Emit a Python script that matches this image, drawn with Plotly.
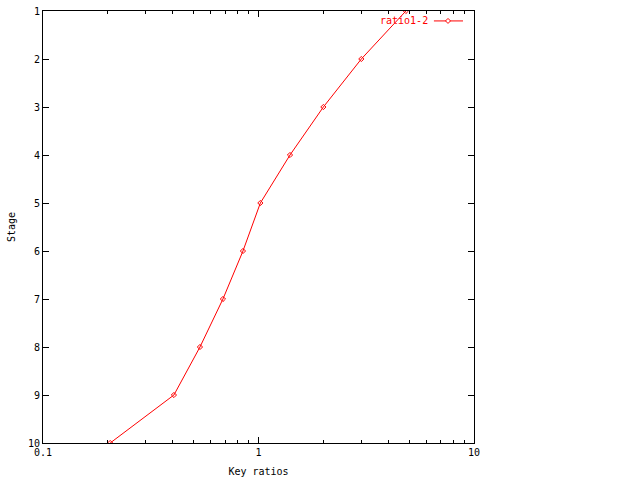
import plotly.graph_objects as go

stages = [1, 2, 3, 4, 5, 6, 7, 8, 9, 10]
key_ratios = [4.83, 3.0, 2.0, 1.40, 1.02, 0.847, 0.684, 0.535, 0.405, 0.205]
series_name = "ratio1-2"

FONT = dict(family="DejaVu Sans Mono", size=10, color="black")

fig = go.Figure()
fig.add_trace(go.Scatter(
    x=key_ratios, y=stages, mode="lines+markers", name=series_name,
    line=dict(color="red", width=1),
    marker=dict(symbol="diamond-open", size=4, color="red", line=dict(width=1)),
    showlegend=False,
))

# key (legend) drawn gnuplot-style: text on the left, sample on the right
KEY_Y = 0.977
fig.add_annotation(text=series_name, xref="paper", yref="paper",
                   x=0.898, y=KEY_Y, xanchor="right", yanchor="middle",
                   showarrow=False, font=dict(family="DejaVu Sans Mono", size=10, color="red"))
fig.add_shape(type="line", xref="paper", yref="paper",
              x0=0.907, x1=0.9745, y0=KEY_Y, y1=KEY_Y,
              line=dict(color="red", width=1))
fig.add_shape(type="path", xref="paper", yref="paper",
              xsizemode="pixel", ysizemode="pixel", xanchor=0.9397, yanchor=KEY_Y,
              path="M0,2.5 L2.5,0 L0,-2.5 L-2.5,0 Z",
              line=dict(color="red", width=1), fillcolor="white")

fig.update_layout(
    width=640, height=480,
    margin=dict(l=43, r=166, t=11, b=37),
    paper_bgcolor="white", plot_bgcolor="white",
    font=FONT,
    showlegend=False,
    xaxis=dict(
        type="log", range=[-1, 1], automargin=False,
        tickvals=[0.1, 1, 10], ticktext=["0.1", "1", "10"],
        ticks="inside", ticklen=6, tickcolor="black",
        minor=dict(tickvals=[0.2, 0.3, 0.4, 0.5, 0.6, 0.7, 0.8, 0.9, 2, 3, 4, 5, 6, 7, 8, 9],
                   ticks="inside", ticklen=3, tickcolor="black", showgrid=False),
        showline=True, linecolor="black", linewidth=1, mirror="ticks",
        showgrid=False, zeroline=False,
        title=dict(text="Key ratios", font=dict(size=10), standoff=10),
        tickfont=dict(size=10),
    ),
    yaxis=dict(
        range=[10, 1], tickmode="linear", tick0=1, dtick=1, automargin=False,
        ticks="inside", ticklen=6, tickcolor="black",
        showline=True, linecolor="black", linewidth=1, mirror="ticks",
        showgrid=False, zeroline=False,
        title=dict(text="Stage", font=dict(size=10), standoff=10),
        tickfont=dict(size=10),
    ),
)

fig.write_html("out.html", config={"displayModeBar": False},
               post_script="document.body.style.margin='0';")
